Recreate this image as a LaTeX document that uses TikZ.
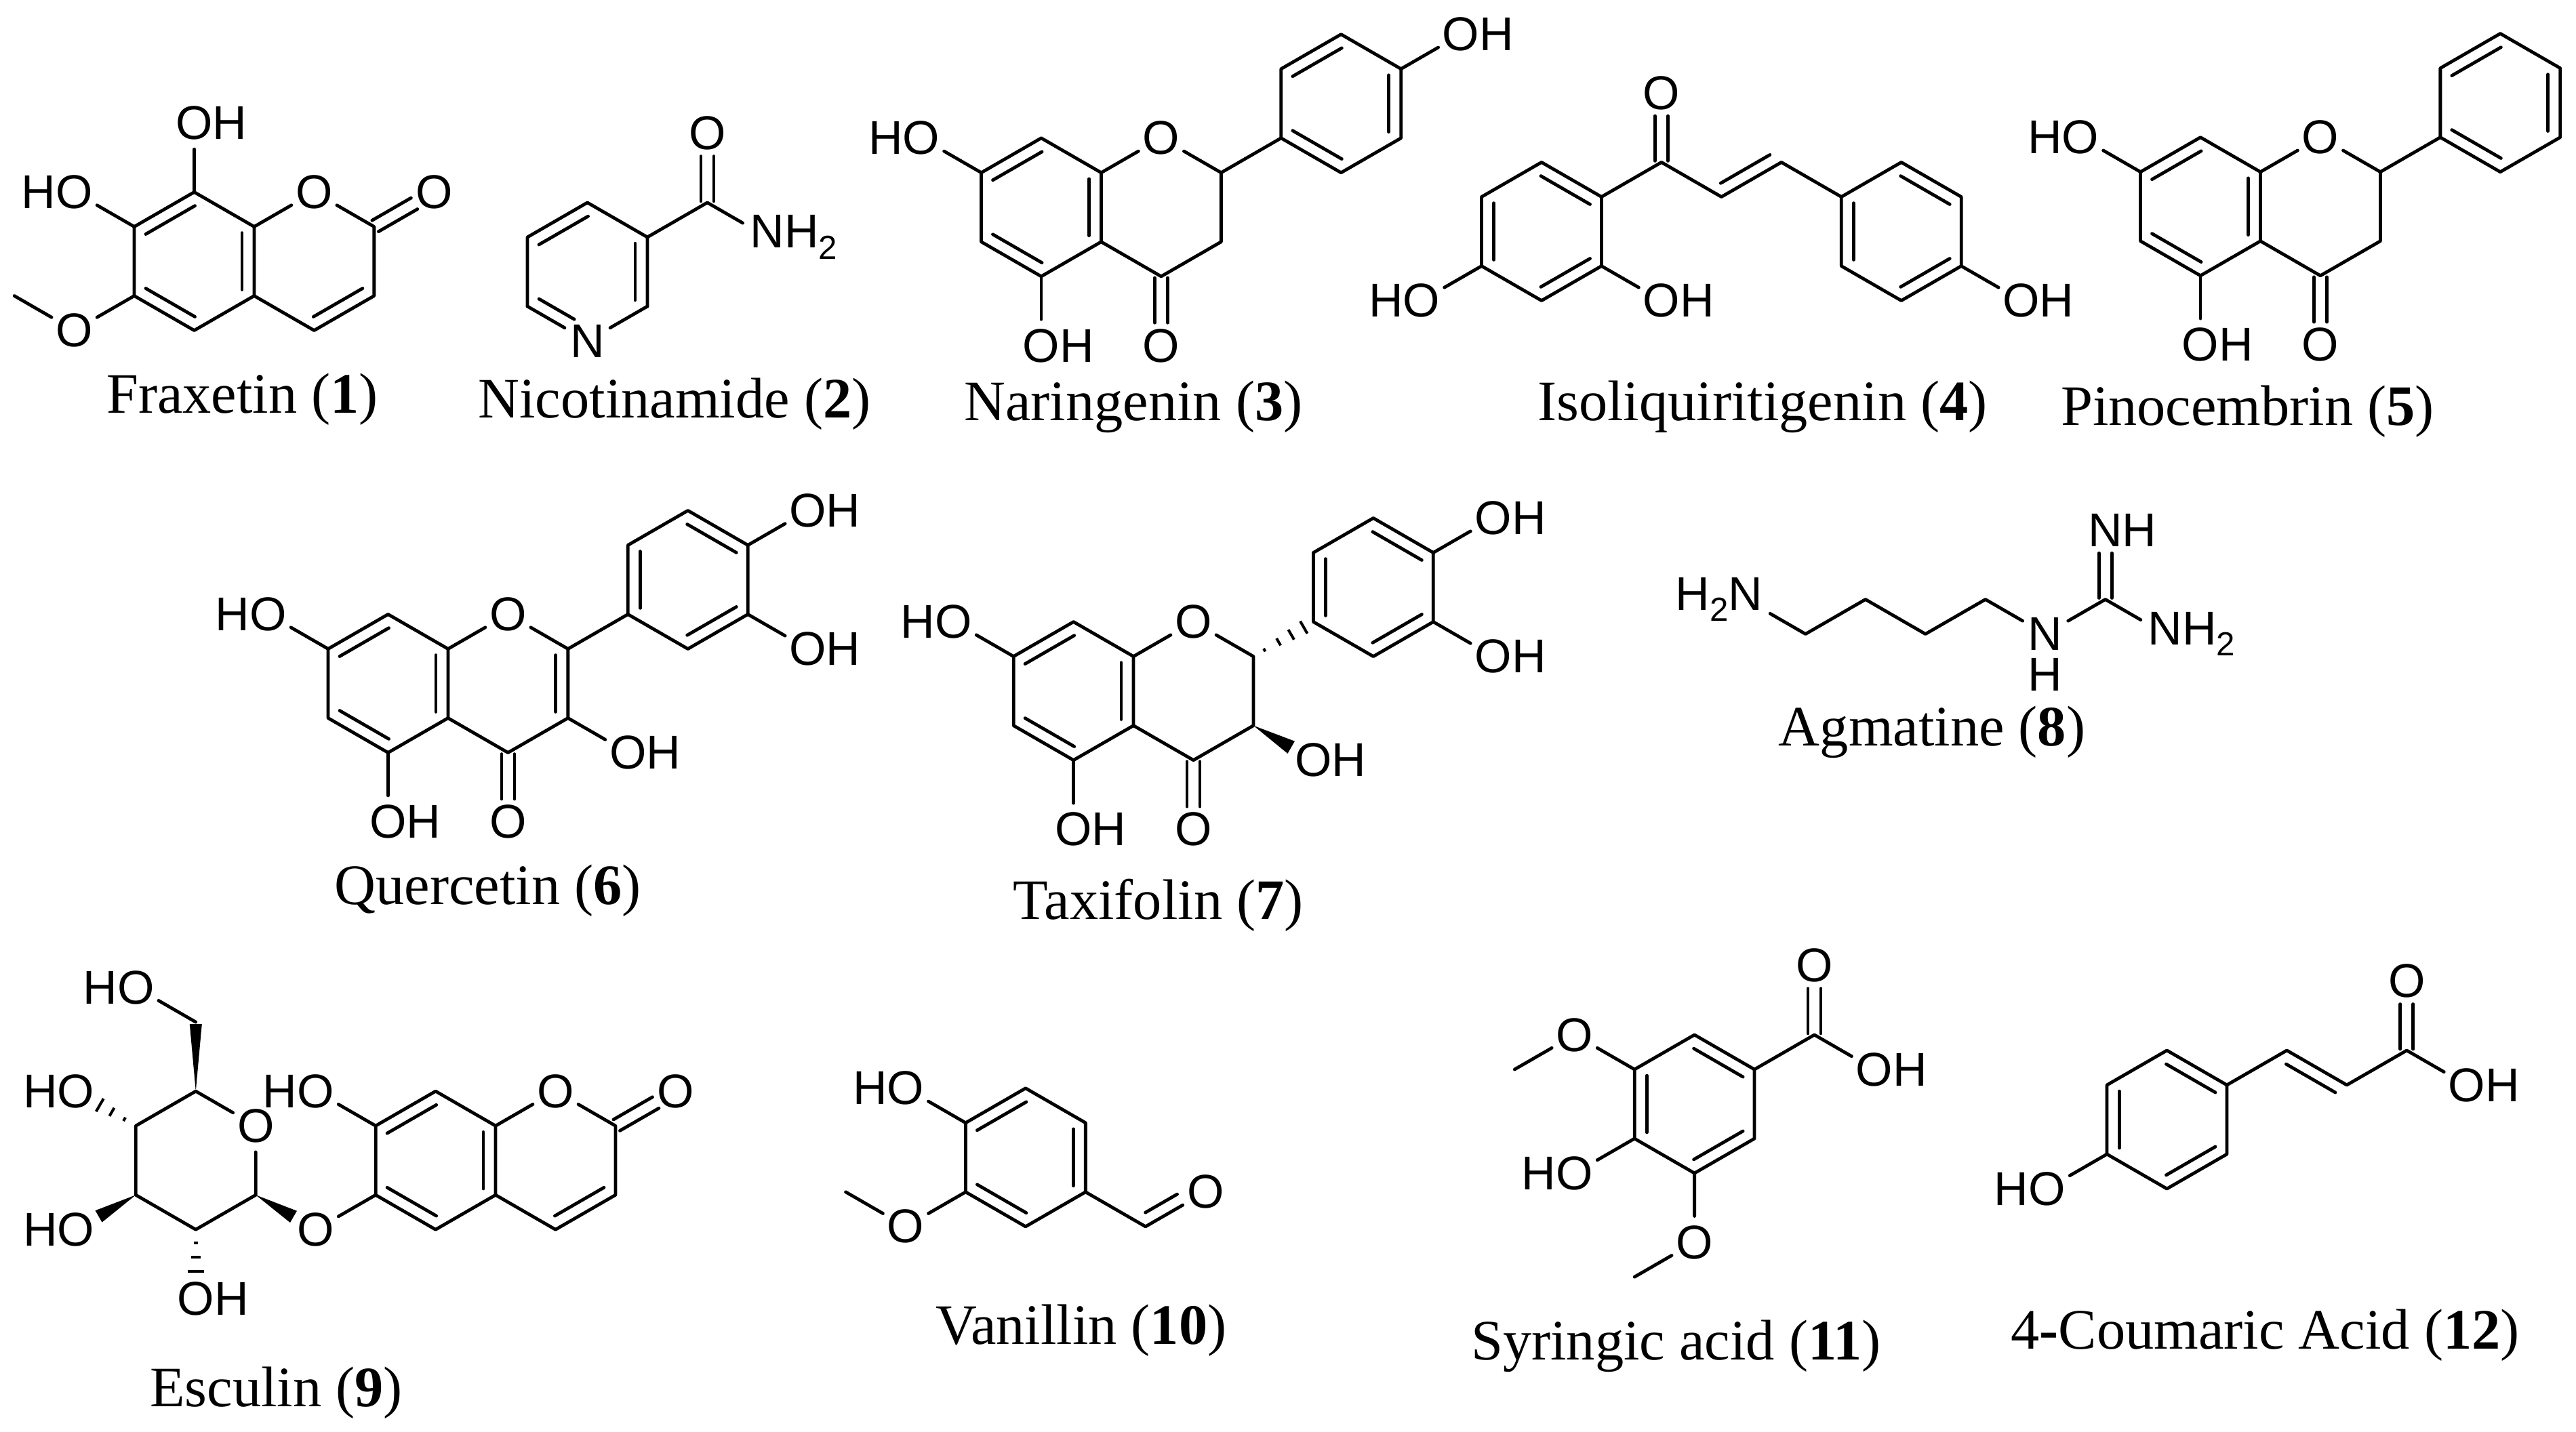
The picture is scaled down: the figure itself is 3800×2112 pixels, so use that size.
\documentclass[tikz,border=0pt]{standalone}
\usepackage{fontspec}
\setmainfont{Liberation Serif}
\newfontfamily\atomfam{Liberation Sans}
\usetikzlibrary{calc}
\newcommand\subt{\raisebox{-.24em}{\fontsize{14}{14}\selectfont 2}}
\tikzset{
  bond/.style={line width=.048cm,line cap=round,line join=round,black},
  hashl/.style={line width=.04cm,black},
  atom/.style={circle,inner sep=0pt,minimum size=.76cm,font=\atomfam\fontsize{19.9}{22}\selectfont},
  atomh/.style={rectangle,inner sep=0pt,font=\atomfam\fontsize{19.9}{22}\selectfont},
  captxt/.style={anchor=base,inner sep=0pt,font=\fontsize{24}{28}\selectfont},
  mol/.style={x=.884cm,y=-.51cm}
}
\newcommand\verts[1]{\foreach \n/\p/\q in {#1}{\coordinate (\n) at (\p,\q);}}
\newcommand\hexv[3]{\coordinate (#11) at (#2,#3-2);\coordinate (#12) at (#2-1,#3-1);\coordinate (#13) at (#2-1,#3+1);\coordinate (#14) at (#2,#3+2);\coordinate (#15) at (#2+1,#3+1);\coordinate (#16) at (#2+1,#3-1);}
\newcommand\hexd[1]{\draw[bond] (#11)--(#12)--(#13)--(#14)--(#15)--(#16)--cycle;}
\newcommand\dblf[4]{\draw[bond] ($(#1)!#3!(#2)!.18cm!90:(#2)$) -- ($(#1)!#4!(#2)!.18cm!90:(#2)$);}
\newcommand\dbl[2]{\dblf{#1}{#2}{.09}{.91}}
\newcommand\patA[1]{\dbl{#11}{#12}\dbl{#13}{#14}\dbl{#15}{#16}}
\newcommand\patB[1]{\dbl{#12}{#13}\dbl{#14}{#15}\dbl{#16}{#11}}
\newcommand\cdbl[2]{\draw[bond] ($(#1)!.02!(#2)!.095cm!90:(#2)$) -- ($(#1)!.67!(#2)!.095cm!90:(#2)$);\draw[bond] ($(#1)!.02!(#2)!.095cm!-90:(#2)$) -- ($(#1)!.67!(#2)!.095cm!-90:(#2)$);}
\newcommand\wdg[4]{\fill[black] (#1) -- ($(#1)!#3!(#2)!#4 cm!90:(#2)$) -- ($(#1)!#3!(#2)!#4 cm!-90:(#2)$) -- cycle;}
\newcommand\hashb[3]{\foreach \f/\w in {#3}{\draw[hashl] ($(#1)!\f!(#2)!\w cm!90:(#2)$) -- ($(#1)!\f!(#2)!\w cm!-90:(#2)$);}}
\begin{document}
\begin{tikzpicture}[x=.01cm,y=-.01cm]
\path[use as bounding box,fill=white] (0,0) rectangle (3800,2112);
% 1 Fraxetin
\begin{scope}[shift={(286.5,385.5)},mol,name prefix=m1-]
\hexv{a}{0}{0}\verts{c1/3/-1,c2/3/1,c3/2/2,me/-3/1}
\node[atom](o1) at (2,-2){O};
\node[atom](o2) at (4,-2){O};
\node[atom](h1) at (0,-4){O\rlap{H}};
\node[atom](h2) at (-2,-2){\llap{H}O};
\node[atom](om) at (-2,2){O};
\hexd{a}\patA{a}
\draw[bond] (a6)--(o1)--(c1)--(c2)--(c3)--(a5);
\dbl{c3}{c2}\cdbl{c1}{o2}
\draw[bond] (a1)--(h1);\draw[bond] (a2)--(h2);\draw[bond] (a3)--(om)--(me);
\end{scope}
% 2 Nicotinamide
\begin{scope}[shift={(866.5,401)},mol,name prefix=m2-]
\hexv{a}{0}{0}\verts{c1/2/-2}
\node[atom](n) at (0,2){N};
\node[atom](o) at (2,-4){O};
\node[atom](nh) at (3,-1){N\rlap{H\subt}};
\draw[bond] (a3)--(a2)--(a1)--(a6)--(a5);
\draw[bond] (a3)--(n)--(a5);
\dbl{a1}{a2}\dbl{a5}{a6}\dblf{a3}{n}{.09}{.68}
\draw[bond] (a6)--(c1)--(nh);\cdbl{c1}{o}
\end{scope}
% 3 Naringenin
\begin{scope}[shift={(1536,305.8)},mol,name prefix=m3-]
\hexv{a}{0}{0}\hexv{b}{5}{-3}\verts{c2/3/-1,c3/3/1,c4/2/2}
\node[atom](o1) at (2,-2){O};
\node[atom](o2) at (2,4){O};
\node[atom](h7) at (-2,-2){\llap{H}O};
\node[atom](h5) at (0,4){O\rlap{H}};
\node[atom](h4) at (7,-5){O\rlap{H}};
\hexd{a}\patA{a}\hexd{b}\patA{b}
\draw[bond] (a6)--(o1)--(c2)--(c3)--(c4)--(a5);
\draw[bond] (c2)--(b3);\cdbl{c4}{o2}
\draw[bond] (a2)--(h7);\draw[bond] (a4)--(h5);\draw[bond] (b6)--(h4);
\end{scope}
% 4 Isoliquiritigenin
\begin{scope}[shift={(2274,341.5)},mol,name prefix=m4-]
\hexv{a}{0}{0}\hexv{b}{6}{0}\verts{c1/2/-2,c2/3/-1,c3/4/-2}
\node[atom](o) at (2,-4){O};
\node[atom](h1) at (-2,2){\llap{H}O};
\node[atom](h2) at (2,2){O\rlap{H}};
\node[atom](h3) at (8,2){O\rlap{H}};
\hexd{a}\patB{a}\hexd{b}\patB{b}
\draw[bond] (a6)--(c1)--(c2)--(c3)--(b2);
\dbl{c2}{c3}\cdbl{c1}{o}
\draw[bond] (a3)--(h1);\draw[bond] (a5)--(h2);\draw[bond] (b5)--(h3);
\end{scope}
% 5 Pinocembrin
\begin{scope}[shift={(3246,304.7)},mol,name prefix=m5-]
\hexv{a}{0}{0}\hexv{b}{5}{-3}\verts{c2/3/-1,c3/3/1,c4/2/2}
\node[atom](o1) at (2,-2){O};
\node[atom](o2) at (2,4){O};
\node[atom](h7) at (-2,-2){\llap{H}O};
\node[atom](h5) at (0,4){O\rlap{H}};
\hexd{a}\patA{a}\hexd{b}\patA{b}
\draw[bond] (a6)--(o1)--(c2)--(c3)--(c4)--(a5);
\draw[bond] (c2)--(b3);\cdbl{c4}{o2}
\draw[bond] (a2)--(h7);\draw[bond] (a4)--(h5);
\end{scope}
% 6 Quercetin
\begin{scope}[shift={(572.5,1008.5)},mol,name prefix=m6-]
\hexv{a}{0}{0}\hexv{b}{5}{-3}\verts{c2/3/-1,c3/3/1,c4/2/2}
\node[atom](o1) at (2,-2){O};
\node[atom](o2) at (2,4){O};
\node[atom](h7) at (-2,-2){\llap{H}O};
\node[atom](h5) at (0,4){O\rlap{H}};
\node[atom](h3) at (4,2){O\rlap{H}};
\node[atom](h4) at (7,-5){O\rlap{H}};
\node[atom](h6) at (7,-1){O\rlap{H}};
\hexd{a}\patA{a}\hexd{b}\patB{b}
\draw[bond] (a6)--(o1)--(c2)--(c3)--(c4)--(a5);
\dbl{c3}{c2}\draw[bond] (c2)--(b3);\cdbl{c4}{o2}
\draw[bond] (a2)--(h7);\draw[bond] (a4)--(h5);\draw[bond] (c3)--(h3);
\draw[bond] (b6)--(h4);\draw[bond] (b5)--(h6);
\end{scope}
% 7 Taxifolin
\begin{scope}[shift={(1583.6,1019.6)},mol,name prefix=m7-]
\hexv{a}{0}{0}\hexv{b}{5}{-3}\verts{c2/3/-1,c3/3/1,c4/2/2}
\node[atom](o1) at (2,-2){O};
\node[atom](o2) at (2,4){O};
\node[atom](h7) at (-2,-2){\llap{H}O};
\node[atom](h5) at (0,4){O\rlap{H}};
\node[atom](h3) at (4,2){O\rlap{H}};
\node[atom](h4) at (7,-5){O\rlap{H}};
\node[atom](h6) at (7,-1){O\rlap{H}};
\hexd{a}\patA{a}\hexd{b}\patB{b}
\draw[bond] (a6)--(o1)--(c2)--(c3)--(c4)--(a5);
\cdbl{c4}{o2}
\hashb{c2}{b3}{.185/.025,.42/.06,.63/.085,.84/.105}
\wdg{c3}{h3}{.63}{.105}
\draw[bond] (a2)--(h7);\draw[bond] (a4)--(h5);
\draw[bond] (b6)--(h4);\draw[bond] (b5)--(h6);
\end{scope}
% 8 Agmatine
\begin{scope}[shift={(2663.4,935.5)},mol,name prefix=m8-]
\verts{c1/0/0,c2/1/-1,c3/2/0,c4/3/-1,c5/5/-1}
\node[atom](n1) at (-1,-1){\llap{H\subt}N};
\node[atom](n2) at (4,0){N};
\node[atomh](hh) at (4,1.18){H};
\node[atom](n3) at (5,-3){N\rlap{H}};
\node[atom](n4) at (6,0){N\rlap{H\subt}};
\draw[bond] (n1)--(c1)--(c2)--(c3)--(c4)--(n2)--(c5)--(n4);
\cdbl{c5}{n3}
\end{scope}
% 9 Esculin
\begin{scope}[shift={(642.6,1712.2)},mol,name prefix=m9-]
\hexv{a}{0}{0}\verts{c1/3/-1,c2/3/1,c3/2/2,s1/-3/1,s5/-4/-2,s4/-5/-1,s3/-5/1,s2/-4/2,s6/-4/-4}
\node[atom](o1) at (2,-2){O};
\node[atom](o2) at (4,-2){O};
\node[atom](h7) at (-2,-2){\llap{H}O};
\node[atom](ol) at (-2,2){O};
\node[atom](or) at (-3,-1){O};
\node[atom](ha) at (-5,-5){\llap{H}O};
\node[atom](hb) at (-6,-2){\llap{H}O};
\node[atom](hc) at (-6,2){\llap{H}O};
\node[atom](hd) at (-4,4){O\rlap{H}};
\hexd{a}\patA{a}
\draw[bond] (a6)--(o1)--(c1)--(c2)--(c3)--(a5);
\dbl{c3}{c2}\cdbl{c1}{o2}
\draw[bond] (a2)--(h7);\draw[bond] (a3)--(ol);
\draw[bond] (s1)--(or)--(s5)--(s4)--(s3)--(s2)--(s1);
\draw[bond] (s6)--(ha);
\wdg{s1}{ol}{.63}{.10}\wdg{s3}{hc}{.62}{.10}\wdg{s5}{s6}{.97}{.09}
\hashb{s4}{hb}{.19/.03,.40/.07,.60/.11}
\hashb{s2}{hd}{.19/.03,.40/.07,.60/.12}
\end{scope}
% 10 Vanillin
\begin{scope}[shift={(1512.9,1707.8)},mol,name prefix=m10-]
\hexv{a}{0}{0}\verts{c1/2/2,me/-3/1}
\node[atom](o) at (3,1){O};
\node[atom](h) at (-2,-2){\llap{H}O};
\node[atom](om) at (-2,2){O};
\hexd{a}\patA{a}
\draw[bond] (a5)--(c1)--(o);\dblf{c1}{o}{.1}{.63}
\draw[bond] (a2)--(h);\draw[bond] (a3)--(om)--(me);
\end{scope}
% 11 Syringic acid
\begin{scope}[shift={(2499.6,1629)},mol,name prefix=m11-]
\hexv{a}{0}{0}\verts{c1/2/-2,m1/-3/-1,m2/-1/5}
\node[atom](o1) at (-2,-2){O};
\node[atom](h) at (-2,2){\llap{H}O};
\node[atom](o2) at (0,4){O};
\node[atom](o3) at (2,-4){O};
\node[atom](h2) at (3,-1){O\rlap{H}};
\hexd{a}\patB{a}
\draw[bond] (a2)--(o1)--(m1);\draw[bond] (a3)--(h);\draw[bond] (a4)--(o2)--(m2);
\draw[bond] (a6)--(c1)--(h2);\cdbl{c1}{o3}
\end{scope}
% 12 4-Coumaric acid
\begin{scope}[shift={(3196.5,1652)},mol,name prefix=m12-]
\hexv{a}{0}{0}\verts{c1/2/-2,c2/3/-1,c3/4/-2}
\node[atom](h) at (-2,2){\llap{H}O};
\node[atom](o) at (4,-4){O};
\node[atom](h2) at (5,-1){O\rlap{H}};
\hexd{a}\patB{a}
\draw[bond] (a3)--(h);
\draw[bond] (a6)--(c1)--(c2)--(c3)--(h2);\dbl{c2}{c1}\cdbl{c3}{o}
\end{scope}
% captions
\node[captxt](t1) at (357.5,609){Fraxetin (\textbf{1})};
\node[captxt](t2) at (995,616){Nicotinamide (\textbf{2})};
\node[captxt](t3) at (1672,620.5){Naringenin (\textbf{3})};
\node[captxt](t4) at (2600,620.5){Isoliquiritigenin (\textbf{4})};
\node[captxt](t5) at (3315.5,627){Pinocembrin (\textbf{5})};
\node[captxt](t6) at (719.7,1334){Quercetin (\textbf{6})};
\node[captxt](t7) at (1708.8,1356){Taxifolin (\textbf{7})};
\node[captxt](t8) at (2850,1100){Agmatine (\textbf{8})};
\node[captxt](t9) at (407.5,2075){Esculin (\textbf{9})};
\node[captxt](t10) at (1595,1983){Vanillin (\textbf{10})};
\node[captxt](t11) at (2472.5,2006){Syringic acid (\textbf{11})};
\node[captxt](t12) at (3341.6,1990){4\textbf{-}Coumaric Acid (\textbf{12})};
\end{tikzpicture}
\end{document}
